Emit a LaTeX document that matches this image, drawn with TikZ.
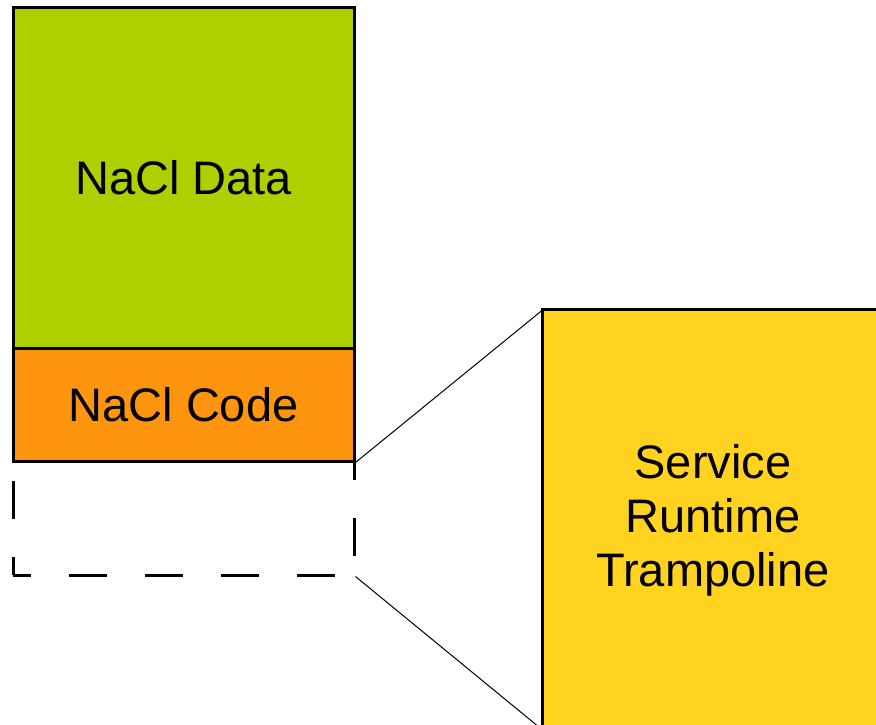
\documentclass[tikz,border=0pt]{standalone}
\usepackage{fontspec}
\setmainfont{Liberation Sans}
\definecolor{dgreen}{HTML}{AECF00}
\definecolor{dorange}{HTML}{FF950E}
\definecolor{dyellow}{HTML}{FFD320}
\tikzset{
  box/.style={draw=black, line width=3pt, inner sep=0pt, font=\fontsize{47}{54}\selectfont, align=center},
  conn/.style={line width=1pt, black},
}
\begin{document}
\begin{tikzpicture}[x=1pt,y=-1pt]
\clip (0,0) rectangle (876,725);
\useasboundingbox (0,0) rectangle (876,725);
\node[box, fill=dgreen, minimum width=341pt, minimum height=340pt] (data) at (183.5,178) {NaCl Data};
\node[box, fill=dorange, minimum width=341pt, minimum height=113pt] (code) at (183.5,404.5) {NaCl Code};
\node[draw=black, line width=3pt, dash pattern=on 38pt off 38pt, dash phase=20pt, minimum width=341pt, minimum height=114pt, inner sep=0pt] (slot) at (183.5,518) {};
\node[fill=dyellow, minimum width=340pt, minimum height=420pt, inner sep=0pt, font=\fontsize{47}{54}\selectfont, align=center] (tramp) at (713,520) {Service\\Runtime\\Trampoline};
\draw[line width=3pt] ([yshift=0pt]tramp.south west) -- (tramp.north west) -- (tramp.north east);
\draw[conn] (code.south east) -- (tramp.north west);
\draw[conn] (slot.south east) -- (tramp.south west);
\end{tikzpicture}
\end{document}
